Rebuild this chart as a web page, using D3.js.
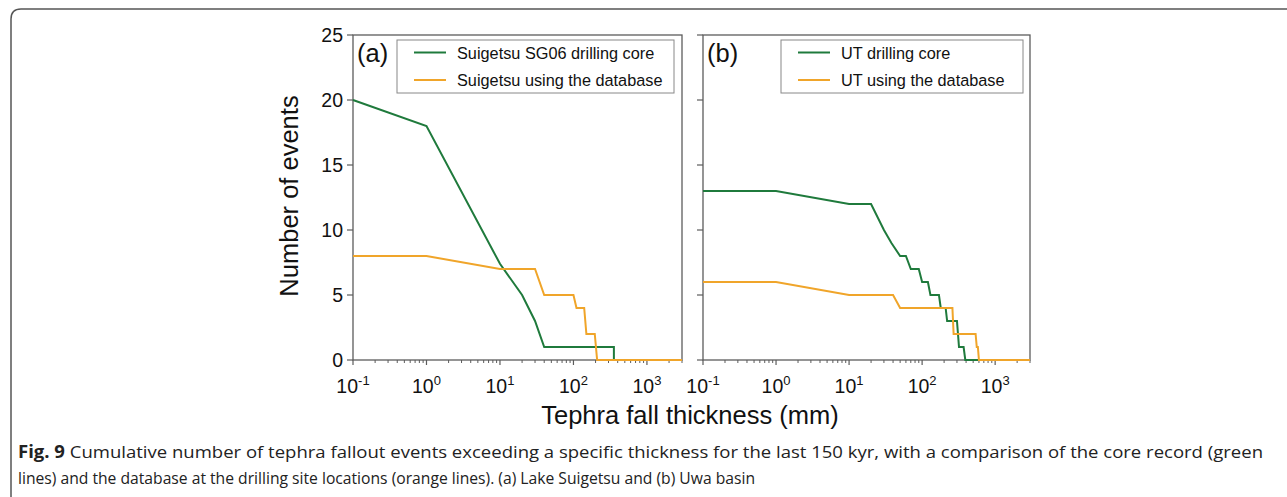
<!DOCTYPE html>
<html>
<head>
<meta charset="utf-8">
<script src="https://cdn.jsdelivr.net/npm/d3@7"></script>
<style>
  body { margin: 0; background: #fff; }
  svg { display: block; font-family: "Liberation Sans", Arial, sans-serif; }
</style>
</head>
<body>
<svg id="fig" width="1287" height="497"></svg>
<script>
// cumulative number of events vs. thickness (mm)
var suigetsuCore = [
    [0.1, 20], [1, 18], [10, 7.4], [20, 5], [30, 3], [40, 1],
    [355, 1], [355, 0], [3000, 0]
];
var suigetsuDb = [
    [0.1, 8], [1, 8], [10, 7], [30, 7], [40, 5], [100, 5], [110, 4],
    [140, 4], [150, 2], [195, 2], [210, 0], [3000, 0]
];
var utCore = [
    [0.1, 13], [1, 13], [10, 12], [20, 12], [30, 10], [38, 9], [50, 8],
    [60, 8], [70, 7], [90, 7], [100, 6], [120, 6], [130, 5], [170, 5],
    [180, 4], [210, 4], [220, 3], [300, 3], [320, 1], [370, 1], [390, 0],
    [3000, 0]
];
var utDb = [
    [0.1, 6], [1, 6], [10, 5], [40, 5], [50, 4], [260, 4], [270, 2],
    [540, 2], [560, 1], [580, 1], [600, 0], [3000, 0]
];
var yTicks = [0, 5, 10, 15, 20, 25];
var xDecades = [-1, 0, 1, 2, 3];
var xDomain = [0.1, 3000];

var green = '#1f7a3c', orange = '#f0a52a', axisCol = '#5c5c5c';

var svg = d3.select('#fig');

// outer frame (only top-left corner visible)
svg.append('path')
    .attr('d', 'M11,1297 L11,19 Q11,9 21,9 L1297,9')
    .attr('fill', 'none').attr('stroke', '#555').attr('stroke-width', 1.5);

var y = d3.scaleLinear().domain([0, 25]).range([360, 35]);

var panels = [
    { x0: 353, x1: 682, tag: '(a)', labels: true,
      series: [[suigetsuCore, green], [suigetsuDb, orange]],
      legend: ['Suigetsu SG06 drilling core', 'Suigetsu using the database'],
      box: [397, 40, 277, 53] },
    { x0: 703, x1: 1030, tag: '(b)', labels: false,
      series: [[utCore, green], [utDb, orange]],
      legend: ['UT drilling core', 'UT using the database'],
      box: [781, 40, 242, 53] }
];

panels.forEach(function (p) {
    var x = d3.scaleLog().domain(xDomain).range([p.x0, p.x1]);
    var g = svg.append('g');

    // frame
    g.append('rect')
        .attr('x', p.x0).attr('y', y(25))
        .attr('width', p.x1 - p.x0).attr('height', y(0) - y(25))
        .attr('fill', 'none').attr('stroke', axisCol).attr('stroke-width', 1.3);

    // y ticks
    g.selectAll('.yt').data(yTicks).enter().append('line')
        .attr('x1', p.x0 - 6).attr('x2', p.x0)
        .attr('y1', function (d) { return y(d); })
        .attr('y2', function (d) { return y(d); })
        .attr('stroke', axisCol).attr('stroke-width', 1.2);

    if (p.labels) {
        g.selectAll('.yl').data(yTicks).enter().append('text')
            .attr('x', p.x0 - 10)
            .attr('y', function (d) { return y(d) + 7; })
            .attr('text-anchor', 'end')
            .attr('font-size', 19.5).attr('fill', '#111')
            .text(function (d) { return d; });
    }

    // x ticks, major + minor
    var minor = [];
    xDecades.forEach(function (e) {
        for (var k = 2; k <= 9; k++) {
            var v = k * Math.pow(10, e);
            if (v <= xDomain[1]) minor.push(v);
        }
    });
    g.selectAll('.xm').data(minor).enter().append('line')
        .attr('x1', function (d) { return x(d); })
        .attr('x2', function (d) { return x(d); })
        .attr('y1', y(0)).attr('y2', y(0) + 3)
        .attr('stroke', axisCol).attr('stroke-width', 1);
    g.selectAll('.xM').data(xDecades).enter().append('line')
        .attr('x1', function (d) { return x(Math.pow(10, d)); })
        .attr('x2', function (d) { return x(Math.pow(10, d)); })
        .attr('y1', y(0)).attr('y2', y(0) + 5)
        .attr('stroke', axisCol).attr('stroke-width', 1.2);

    var xl = g.selectAll('.xl').data(xDecades).enter().append('text')
        .attr('x', function (d) { return x(Math.pow(10, d)); })
        .attr('y', 393)
        .attr('text-anchor', 'middle')
        .attr('font-size', 19.5).attr('fill', '#111');
    xl.append('tspan').text('10');
    xl.append('tspan').attr('dy', -8).attr('font-size', 13)
        .text(function (d) { return d; });

    // lines
    var line = d3.line()
        .x(function (d) { return x(d[0]); })
        .y(function (d) { return y(d[1]); });
    p.series.forEach(function (s) {
        g.append('path').datum(s[0])
            .attr('d', line)
            .attr('fill', 'none').attr('stroke', s[1])
            .attr('stroke-width', 2);
    });

    // panel tag
    g.append('text')
        .attr('x', p.x0 + 4).attr('y', 62)
        .attr('font-size', 25.5).attr('fill', '#111')
        .text(p.tag);

    // legend
    var b = p.box;
    g.append('rect')
        .attr('x', b[0]).attr('y', b[1]).attr('width', b[2]).attr('height', b[3])
        .attr('fill', '#fff').attr('stroke', '#888').attr('stroke-width', 1);
    [green, orange].forEach(function (c, i) {
        var ly = b[1] + 12.5 + i * 27.5;
        g.append('line')
            .attr('x1', b[0] + 17).attr('x2', b[0] + 49)
            .attr('y1', ly).attr('y2', ly)
            .attr('stroke', c).attr('stroke-width', 2);
        g.append('text')
            .attr('x', b[0] + 60).attr('y', ly + 6)
            .attr('font-size', 16.3).attr('fill', '#111')
            .text(p.legend[i]);
    });
});

// axis titles
svg.append('text')
    .attr('transform', 'translate(298,196) rotate(-90)')
    .attr('text-anchor', 'middle')
    .attr('font-size', 25.5).attr('fill', '#111')
    .text('Number of events');
svg.append('text')
    .attr('x', 690).attr('y', 424)
    .attr('text-anchor', 'middle')
    .attr('font-size', 25.5).attr('fill', '#111')
    .text('Tephra fall thickness (mm)');

// caption
var cap = svg.append('g')
    .attr('font-family', '"Open Sans", "Noto Sans", sans-serif')
    .attr('fill', '#222').attr('font-size', 17);
var c1 = cap.append('text').attr('x', 18).attr('y', 458)
    .attr('textLength', 1245).attr('lengthAdjust', 'spacingAndGlyphs');
c1.append('tspan').attr('font-weight', 'bold').text('Fig. 9');
c1.append('tspan').text('  Cumulative number of tephra fallout events exceeding a specific thickness for the last 150 kyr, with a comparison of the core record (green');
cap.append('text').attr('x', 18).attr('y', 484)
    .attr('textLength', 737).attr('lengthAdjust', 'spacingAndGlyphs')
    .text('lines) and the database at the drilling site locations (orange lines). (a) Lake Suigetsu and (b) Uwa basin');
</script>
</body>
</html>
